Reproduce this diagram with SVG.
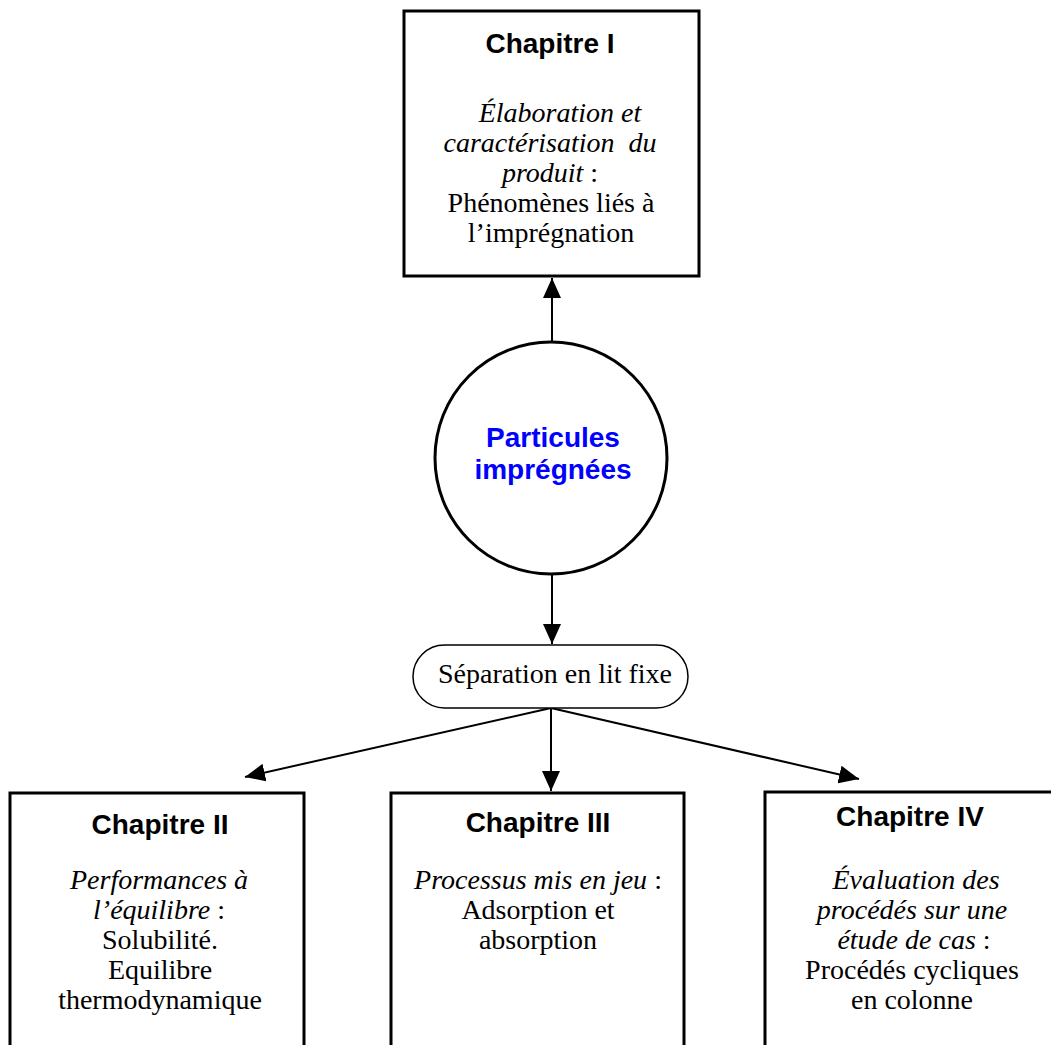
<svg xmlns="http://www.w3.org/2000/svg" width="1051" height="1045" viewBox="0 0 1051 1045">
<style>
.box{fill:#fff;stroke:#000;stroke-width:3}
.head{font-family:"Liberation Sans",Arial,sans-serif;font-weight:bold;font-size:28px;fill:#000;text-anchor:middle}
.txt{font-family:"Liberation Serif","Times New Roman",serif;font-size:28px;fill:#000;text-anchor:middle}
.it{font-style:italic}
.blue{font-family:"Liberation Sans",Arial,sans-serif;font-weight:bold;font-size:28px;fill:#0000ff;text-anchor:middle}
.con{stroke:#000;stroke-width:2;fill:none}
</style>
<defs>
<marker id="arr" viewBox="0 0 20 18" refX="20" refY="9" markerWidth="20" markerHeight="18" markerUnits="userSpaceOnUse" orient="auto">
<path d="M0,0 L20,9 L0,18 Z" fill="#000"/>
</marker>
</defs>
<rect width="1051" height="1045" fill="#fff"/>
<g id="connectors">
<line class="con" x1="552" y1="342" x2="552" y2="278" marker-end="url(#arr)"/>
<line class="con" x1="552" y1="575" x2="552" y2="644" marker-end="url(#arr)"/>
<line class="con" x1="551" y1="708" x2="245" y2="777" marker-end="url(#arr)"/>
<line class="con" x1="551" y1="708" x2="551" y2="791" marker-end="url(#arr)"/>
<line class="con" x1="551" y1="708" x2="859" y2="779" marker-end="url(#arr)"/>
</g>
<g id="chap1">
<rect class="box" x="404" y="11" width="295" height="265"/>
<text class="head" x="550" y="53">Chapitre I</text>
<text class="txt it" x="560" y="122">Élaboration et</text>
<text class="txt it" x="550" y="152" xml:space="preserve">caractérisation  du</text>
<text class="txt" x="550" y="182"><tspan class="it">produit</tspan> :</text>
<text class="txt" x="551" y="212">Phénomènes liés à</text>
<text class="txt" x="551" y="242">l’imprégnation</text>
</g>
<g id="particules">
<circle cx="551" cy="458" r="116" fill="#fff" stroke="#000" stroke-width="3"/>
<text class="blue" x="553" y="447">Particules</text>
<text class="blue" x="553" y="479">imprégnées</text>
</g>
<g id="separation">
<rect x="413" y="645" width="275" height="63" rx="31.5" ry="31.5" fill="#fff" stroke="#000" stroke-width="1.5"/>
<text class="txt" x="555" y="683">Séparation en lit fixe</text>
</g>
<g id="chap2">
<rect class="box" x="10" y="793" width="294" height="270"/>
<text class="head" x="160" y="834">Chapitre II</text>
<text class="txt it" x="159" y="889">Performances à</text>
<text class="txt" x="159" y="919"><tspan class="it">l’équilibre</tspan> :</text>
<text class="txt" x="160" y="949">Solubilité.</text>
<text class="txt" x="160" y="979">Equilibre</text>
<text class="txt" x="160" y="1009">thermodynamique</text>
</g>
<g id="chap3">
<rect class="box" x="391" y="793" width="293" height="270"/>
<text class="head" x="538" y="832">Chapitre III</text>
<text class="txt" x="538" y="889"><tspan class="it">Processus mis en jeu</tspan> :</text>
<text class="txt" x="538" y="919">Adsorption et</text>
<text class="txt" x="538" y="949">absorption</text>
</g>
<g id="chap4">
<rect class="box" x="765" y="792" width="300" height="270"/>
<text class="head" x="910" y="826">Chapitre IV</text>
<text class="txt it" x="916" y="889">Évaluation des</text>
<text class="txt it" x="912" y="919">procédés sur une</text>
<text class="txt" x="914" y="949"><tspan class="it">étude de cas</tspan> :</text>
<text class="txt" x="912" y="979">Procédés cycliques</text>
<text class="txt" x="912" y="1009">en colonne</text>
</g>
</svg>
